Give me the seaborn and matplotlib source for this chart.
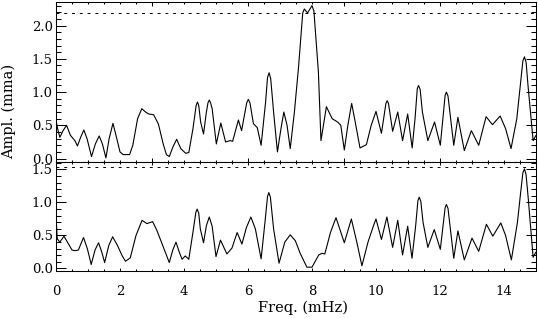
import matplotlib
matplotlib.use("Agg")
import matplotlib.pyplot as plt
import numpy as np
import pandas as pd
import seaborn as sns
from matplotlib.ticker import MultipleLocator, NullFormatter, FormatStrFormatter

# ---------------- data ----------------
freq_top = [0.00, 0.05, 0.12, 0.22, 0.33, 0.45, 0.59, 0.67, 0.77, 0.87, 0.97,
            1.11, 1.23, 1.35, 1.45, 1.56, 1.66, 1.78, 1.90, 2.00, 2.10, 2.30,
            2.40, 2.55, 2.68, 2.80, 2.90, 3.05, 3.20, 3.35, 3.45, 3.54, 3.65,
            3.77, 3.90, 4.05, 4.15, 4.28, 4.38, 4.42, 4.46, 4.52, 4.61, 4.70,
            4.75, 4.79, 4.83, 4.88,
            5.01, 5.15, 5.30, 5.44, 5.52, 5.70, 5.80, 5.96, 6.01, 6.06, 6.17,
            6.29, 6.41, 6.55, 6.61, 6.66, 6.71, 6.80, 6.92, 7.03, 7.12, 7.22,
            7.32, 7.45, 7.58, 7.71,
            7.76, 7.86, 8.00, 8.06, 8.20, 8.28, 8.45, 8.63, 8.80, 8.90, 9.01,
            9.12, 9.24, 9.37, 9.50, 9.70, 9.85, 10.00, 10.17, 10.31, 10.35,
            10.39, 10.52, 10.68, 10.83, 10.99, 11.13, 11.22, 11.29, 11.33,
            11.38, 11.45, 11.62, 11.83, 12.01, 12.16, 12.20, 12.25, 12.43,
            12.56, 12.76, 12.98, 13.21, 13.44, 13.64, 13.88, 14.05, 14.22,
            14.40, 14.50, 14.59, 14.64, 14.69, 14.75, 14.91, 15.00]
ampl_top = [0.58, 0.45, 0.32, 0.42, 0.50, 0.35, 0.27, 0.19, 0.32, 0.43, 0.30,
            0.03, 0.22, 0.34, 0.22, 0.01, 0.30, 0.53, 0.30, 0.10, 0.06, 0.06,
            0.20, 0.60, 0.75, 0.70, 0.67, 0.66, 0.52, 0.22, 0.06, 0.03, 0.17,
            0.29, 0.15, 0.08, 0.09, 0.45, 0.80, 0.85, 0.80, 0.55, 0.37, 0.70,
            0.84, 0.88, 0.84, 0.75,
            0.22, 0.535, 0.25, 0.27, 0.26, 0.58, 0.42, 0.84, 0.89, 0.84, 0.525,
            0.465, 0.20, 0.85, 1.22, 1.29, 1.20, 0.70, 0.10, 0.45, 0.70, 0.50,
            0.15, 0.70, 1.38, 2.19,
            2.25, 2.19, 2.30, 2.22, 1.30, 0.27, 0.78, 0.60, 0.55, 0.50, 0.13,
            0.50, 0.83, 0.50, 0.16, 0.21, 0.50, 0.71, 0.38, 0.83, 0.87,
            0.83, 0.41, 0.70, 0.27, 0.67, 0.16, 0.60, 1.05, 1.10,
            1.04, 0.70, 0.27, 0.55, 0.20, 0.95, 1.00, 0.94, 0.20,
            0.62, 0.12, 0.42, 0.20, 0.63, 0.51, 0.64, 0.45, 0.15,
            0.60, 1.05, 1.47, 1.53, 1.45, 1.10, 0.27, 0.35]

freq_bot = [0.00, 0.04, 0.12, 0.25, 0.38, 0.50, 0.60, 0.70, 0.86, 0.98, 1.10,
            1.22, 1.33, 1.43, 1.52, 1.65, 1.77, 1.92, 2.06, 2.17, 2.32, 2.50,
            2.69, 2.84, 3.02, 3.15, 3.31, 3.54, 3.65, 3.75, 3.85, 3.94, 4.04,
            4.15, 4.28, 4.37, 4.41, 4.46, 4.51, 4.61, 4.70, 4.79, 4.88, 5.00,
            5.14, 5.34, 5.50, 5.66, 5.81, 5.95, 6.09, 6.23, 6.41, 6.53, 6.61,
            6.65, 6.70, 6.80, 6.97, 7.15, 7.32, 7.48, 7.63, 7.84, 8.00, 8.21,
            8.31, 8.40, 8.58, 8.75, 9.01, 9.23, 9.40, 9.56, 9.75, 9.93, 10.00,
            10.17, 10.34, 10.52, 10.68, 10.83, 10.99, 11.125, 11.24, 11.31,
            11.35, 11.40, 11.47, 11.62, 11.82, 12.01, 12.16, 12.20, 12.25,
            12.43, 12.56, 12.76, 13.00, 13.21, 13.45, 13.65, 13.90, 14.05,
            14.23, 14.42, 14.52, 14.59, 14.64, 14.69, 14.76, 14.91, 15.00]
ampl_bot = [0.80, 0.45, 0.40, 0.49, 0.38, 0.28, 0.27, 0.28, 0.47, 0.30, 0.06,
            0.28, 0.39, 0.25, 0.09, 0.35, 0.48, 0.35, 0.20, 0.11, 0.16, 0.50,
            0.73, 0.68, 0.71, 0.58, 0.38, 0.09, 0.28, 0.40, 0.25, 0.14, 0.19,
            0.14, 0.55, 0.85, 0.90, 0.84, 0.60, 0.39, 0.65, 0.78, 0.64, 0.18,
            0.43, 0.22, 0.31, 0.545, 0.37, 0.62, 0.78, 0.60, 0.145, 0.70, 1.09,
            1.15, 1.08, 0.60, 0.08, 0.40, 0.51, 0.42, 0.23, 0.02, 0.02, 0.205,
            0.23, 0.22, 0.55, 0.77, 0.39, 0.75, 0.40, 0.04, 0.40, 0.66, 0.75,
            0.44, 0.78, 0.32, 0.73, 0.205, 0.64, 0.155, 0.65, 1.03,
            1.08, 1.02, 0.70, 0.32, 0.59, 0.29, 0.92, 0.97, 0.91,
            0.155, 0.57, 0.13, 0.46, 0.26, 0.67, 0.49, 0.69, 0.50,
            0.13, 0.70, 1.15, 1.45, 1.51, 1.42, 1.05, 0.17, 0.25]

threshold_top = 2.185
threshold_bot = 1.542
x_tick_labels = ["0", "2", "4", "6", "8", "10", "12", "14"]
y_label = "Ampl. (mma)"
x_label = "Freq. (mHz)"

# ---------------- styling ----------------
sns.set_theme(style="white")
plt.rcParams["font.family"] = ["DejaVu Serif", "DejaVu Sans"]
plt.rcParams["axes.edgecolor"] = "black"
plt.rcParams["axes.linewidth"] = 0.75
plt.rcParams["xtick.color"] = "black"
plt.rcParams["ytick.color"] = "black"

W, H = 538, 318
fig = plt.figure(figsize=(W / 100, H / 100), dpi=100)
fig.patch.set_facecolor("white")
ax1 = fig.add_axes([56 / W, (H - 162.3) / H, 480 / W, 160.3 / H])
ax2 = fig.add_axes([56 / W, (H - 271) / H, 480 / W, 108.7 / H])

df_top = pd.DataFrame({"freq": freq_top, "ampl": ampl_top})
df_bot = pd.DataFrame({"freq": freq_bot, "ampl": ampl_bot})

sns.lineplot(data=df_top, x="freq", y="ampl", ax=ax1, color="black",
             linewidth=0.8, estimator=None, sort=False)
sns.lineplot(data=df_bot, x="freq", y="ampl", ax=ax2, color="black",
             linewidth=0.8, estimator=None, sort=False)

ax1.axhline(threshold_top, color="black", lw=0.7, ls=(0, (3, 5)))
ax2.axhline(threshold_bot, color="black", lw=0.7, ls=(0, (3, 5)))

ax1.set_xlim(0, 15)
ax2.set_xlim(0, 15)
ax1.set_ylim(-0.056, 2.355)
ax2.set_ylim(-0.038, 1.609)

for ax in (ax1, ax2):
    ax.set_xlabel("")
    ax.set_ylabel("")
    ax.set_facecolor("white")
    for sp in ax.spines.values():
        sp.set_visible(True)
        sp.set_color("black")
        sp.set_linewidth(0.75)
    ax.yaxis.set_major_locator(MultipleLocator(0.5))
    ax.yaxis.set_minor_locator(MultipleLocator(0.1))
    ax.yaxis.set_major_formatter(FormatStrFormatter("%.1f"))
    ax.tick_params(axis="y", which="both", direction="in", left=True,
                   right=True, width=0.75, pad=2.4, labelsize=9.5)
    ax.tick_params(axis="y", which="major", length=7)
    ax.tick_params(axis="y", which="minor", length=3.5)

# top panel x axis: ticks every 3 (major) and 0.5 (minor), no labels
ax1.xaxis.set_major_locator(MultipleLocator(3))
ax1.xaxis.set_minor_locator(MultipleLocator(0.5))
ax1.tick_params(axis="x", which="both", direction="in", top=True,
                bottom=True, labelbottom=False, width=0.75)
ax1.tick_params(axis="x", which="major", length=3)
ax1.tick_params(axis="x", which="minor", length=1.5)

# bottom panel x axis
ax2.set_xticks(np.arange(0, 15, 2))
ax2.set_xticklabels(x_tick_labels)
ax2.xaxis.set_minor_locator(MultipleLocator(0.5))
ax2.tick_params(axis="x", which="both", direction="in", top=False,
                bottom=True, width=0.75, pad=10, labelsize=9.5)
ax2.tick_params(axis="x", which="major", length=2.5)
ax2.tick_params(axis="x", which="minor", length=1.3)

sec = ax2.secondary_xaxis("top")
sec.xaxis.set_major_locator(MultipleLocator(3))
sec.xaxis.set_minor_locator(MultipleLocator(0.5))
sec.xaxis.set_major_formatter(NullFormatter())
sec.tick_params(axis="x", which="both", direction="in", width=0.75, colors="black")
sec.tick_params(axis="x", which="major", length=2.5)
sec.tick_params(axis="x", which="minor", length=1.3)

fig.text(8.5 / W, 1 - 111 / H, y_label, rotation=90, ha="center",
         va="center", fontsize=10.5, color="black")
fig.text(303 / W, 1 - 308 / H, x_label, ha="center", va="center",
         fontsize=10.5, color="black")

fig.savefig("out.png", dpi=100, facecolor="white")
